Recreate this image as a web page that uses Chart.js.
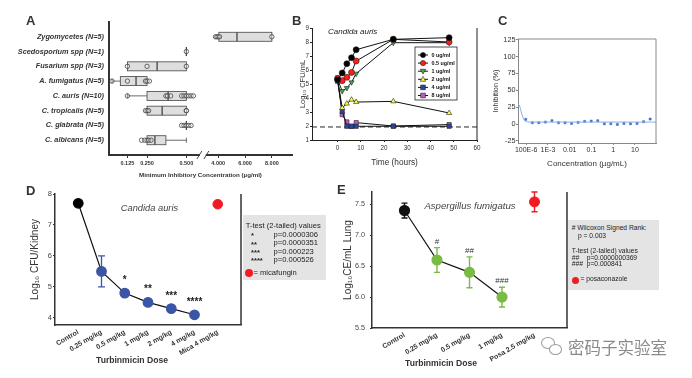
<!DOCTYPE html>
<html>
<head>
<meta charset="utf-8">
<script src="https://cdn.jsdelivr.net/npm/chart.js@4.4.1/dist/chart.umd.min.js"></script>
<style>
  body { margin: 0; width: 692px; height: 378px; position: relative; overflow: hidden; background: #fff;
         font-family: "Liberation Sans", Arial, sans-serif; color: #333; }
  canvas { position: absolute; }
  .tag { position: absolute; line-height: 1; font: bold 13px "Liberation Sans Narrow", "Liberation Sans", sans-serif; color: #333; }
  .txt { position: absolute; line-height: 1; white-space: nowrap; }
  .key { position: absolute; background: #e4e4e4; }
</style>
</head>
<body>
<canvas id="chartA" width="300" height="185" style="left:0px;top:0px"></canvas>
<canvas id="chartB" width="200" height="175" style="left:290px;top:0px"></canvas>
<canvas id="chartC" width="196" height="175" style="left:488px;top:0px"></canvas>
<canvas id="chartD" width="340" height="198" style="left:0px;top:180px"></canvas>
<canvas id="chartE" width="352" height="198" style="left:340px;top:180px"></canvas>

<div class="tag" style="left:26px;top:13px">A</div>
<div class="tag" style="left:292px;top:13px">B</div>
<div class="tag" style="left:498px;top:13px">C</div>
<div class="tag" style="left:26px;top:183px">D</div>
<div class="tag" style="left:337px;top:182px">E</div>
<div class="key" style="left:243px;top:215px;width:83px;height:65px"></div>
<div class="key" style="left:568px;top:220px;width:91px;height:70px"></div>

<script>
// ---------- A: MIC box plots ----------
const rowsA = ['Zygomycetes (N=5)', 'Scedosporium spp (N=1)', 'Fusarium spp (N=3)', 'A. fumigatus (N=5)',
               'C. auris (N=10)', 'C. tropicalis (N=5)', 'C. glabrata (N=5)', 'C. albicans (N=5)'];
const loA  = [4.05, 0.5, 0.125, 0.027, 0.125, 0.25, 0.5, 0.25];
const q1A  = [4.05, 0.5, 0.125, 0.08, 0.25, 0.25, 0.5, 0.25];
const medA = [5.4, 0.5, 0.314, 0.18, 0.384, 0.346, 0.5, 0.30];
const q3A  = [8, 0.5, 0.5, 0.25, 0.5, 0.5, 0.5, 0.37];
const hiA  = [8, 0.5, 0.5, 0.25, 0.5, 0.5, 0.5, 0.5];
const ptsA = [
  [3.8, 3.9, 4.0, 4.1, 8],
  [0.5],
  [0.125, 0.25, 0.5],
  [0.027, 0.125, 0.24, 0.25, 0.265],
  [0.125, 0.37, 0.38, 0.4, 0.47, 0.485, 0.5, 0.515, 0.53, 0.545],
  [0.24, 0.25, 0.26, 0.5, 0.5],
  [0.47, 0.485, 0.5, 0.515, 0.53],
  [0.215, 0.235, 0.25, 0.26, 0.275]
];
const ticksA = [0.125, 0.25, 0.5, 4, 6, 8];

// ---------- B: time kill ----------
const timesB = [0, 2, 4, 6, 8, 24, 48];
const dosesB = ['0 ug/ml', '0.5 ug/ml', '1 ug/ml', '2 ug/ml', '4 ug/ml', '8 ug/ml'];
const cfu0  = [5.3, 5.79, 6.45, 6.88, 7.45, 8.19, 8.31];
const cfu05 = [5.4, 5.24, 5.48, 5.83, 6.64, 8.19, 8.0];
const cfu1  = [5.3, 4.5, 4.71, 5.12, 5.74, 7.95, 7.95];
const cfu2  = [5.3, 3.29, 3.6, 3.88, 3.71, 3.76, 2.93];
const cfu4  = [5.2, 3.05, 1.98, 1.98, 1.98, 1.98, 1.98];
const cfu8  = [5.43, 2.81, 2.29, 1.98, 2.24, 2.0, 2.1];
const limitB = 1.93;
const ticksBx = [0, 10, 20, 30, 40, 50, 60];

// ---------- C: inhibition curve ----------
const concC = [0.0000954, 0.000191, 0.000381, 0.000763, 0.00153, 0.00305, 0.0061, 0.0122, 0.0244, 0.0488,
               0.0977, 0.195, 0.391, 0.781, 1.56, 3.13, 6.25, 12.5, 25, 50];
const inhibC = [7, 2, 2, 3, 5, 2, 2, 1, 2.5, 4, 4.5, 5, 0.5, 0.5, -0.5, 1, 0.5, 1, 3.5, 7.5];
const fitConcC = [0.000042, 0.00005, 0.000059, 0.000071, 0.000085, 0.000115, 0.0002, 0.001, 0.01, 0.1, 1, 10, 93];
const fitValC  = [30, 27, 18, 10, 5, 3.3, 3, 3, 3, 3, 3, 3, 3];
const ticksC = [0.0001, 0.001, 0.01, 0.1, 1, 10];
const tickLabelsC = ['100E-6', '1E-3', '0.01', '0.1', '1', '10'];
const ticksCy = [-25, 0, 25, 50, 75, 100, 125];

// ---------- D: kidney burden, C. auris ----------
const catD = ['Control', '0.25 mg/kg', '0.5 mg/kg', '1 mg/kg', '2 mg/kg', '4 mg/kg', 'Mica 4 mg/kg'];
const cfuD = [7.7, 5.5, 4.8, 4.5, 4.3, 4.1];
const sdD = [0, 0.5, 0, 0, 0, 0];
const starsD = ['', '', '*', '**', '***', '****'];
const micaD = 7.67;
const ticksDy = [4, 5, 6, 7, 8];

// ---------- E: lung burden, A. fumigatus ----------
const catE = ['Control', '0.25 mg/kg', '0.5 mg/kg', '1 mg/kg', 'Posa 2.5 mg/kg'];
const ceE = [7.40, 6.60, 6.40, 6.00];
const sdE = [0.12, 0.20, 0.25, 0.16];
const hashE = ['', '#', '##', '###'];
const posaE = 7.54;
const posaSdE = 0.16;
const ticksEy = [5.5, 6.0, 6.5, 7.0, 7.5];

Chart.defaults.font.family = '"Liberation Sans", Arial, sans-serif';
Chart.defaults.color = '#333';
Chart.defaults.animation = false;
Chart.defaults.responsive = false;
Chart.defaults.plugins.legend.display = false;
Chart.defaults.plugins.tooltip.enabled = false;

// fix axis sizes so the plot areas land where they are in the figure
const fixY = w => s => { s.width = w; s.paddingTop = 0; s.paddingBottom = 0; };
const fixX = h => s => { s.height = h; s.paddingLeft = 0; s.paddingRight = 0; };

function frame(id, sides, color, width) {
  return {
    id: id,
    afterDraw(chart) {
      const { ctx, chartArea: a } = chart;
      ctx.save();
      ctx.strokeStyle = color;
      ctx.lineWidth = width;
      ctx.beginPath();
      if (sides.includes('r')) { ctx.moveTo(a.right, a.top); ctx.lineTo(a.right, a.bottom); }
      if (sides.includes('t')) { ctx.moveTo(a.left, a.top); ctx.lineTo(a.right, a.top); }
      ctx.stroke();
      ctx.restore();
    }
  };
}

// broken x axis for A: the first segment is linear, the second is squeezed
function brk(v) { return v < 1 ? v : 0.7025 + (v - 4) * 0.0854; }

const boxA = {
  id: 'boxA',
  beforeDatasetsDraw(chart) {
    const { ctx, scales: { x, y } } = chart;
    const px = v => x.getPixelForValue(brk(v));
    const h = 4.5;
    ctx.save();
    ctx.strokeStyle = '#444';
    rowsA.forEach((name, i) => {
      const yc = y.getPixelForValue(i + 1);
      ctx.lineWidth = 0.8;
      ctx.beginPath();
      if (loA[i] < q1A[i]) {
        ctx.moveTo(px(loA[i]), yc); ctx.lineTo(px(q1A[i]), yc);
        ctx.moveTo(px(loA[i]), yc - 2.5); ctx.lineTo(px(loA[i]), yc + 2.5);
      }
      if (hiA[i] > q3A[i]) {
        ctx.moveTo(px(q3A[i]), yc); ctx.lineTo(px(hiA[i]), yc);
        ctx.moveTo(px(hiA[i]), yc - 2.5); ctx.lineTo(px(hiA[i]), yc + 2.5);
      }
      ctx.stroke();
      if (q3A[i] > q1A[i]) {
        const x1 = px(q1A[i]), x2 = px(q3A[i]);
        ctx.fillStyle = '#dedede';
        ctx.fillRect(x1, yc - h, x2 - x1, 2 * h);
        ctx.strokeRect(x1, yc - h, x2 - x1, 2 * h);
      }
      ctx.lineWidth = 1.3;
      ctx.beginPath();
      ctx.moveTo(px(medA[i]), yc - h); ctx.lineTo(px(medA[i]), yc + h);
      ctx.stroke();
    });
    ctx.restore();
  },
  afterDraw(chart) {
    const { ctx, chartArea: a, scales: { x } } = chart;
    const xb = x.getPixelForValue(0.605);
    ctx.save();
    ctx.fillStyle = '#fff';
    ctx.fillRect(xb - 3, a.bottom - 2, 6, 4);
    ctx.strokeStyle = '#333';
    ctx.lineWidth = 0.9;
    ctx.beginPath();
    ctx.moveTo(xb - 6, a.bottom + 4); ctx.lineTo(xb - 1, a.bottom - 4);
    ctx.moveTo(xb + 1, a.bottom + 4); ctx.lineTo(xb + 6, a.bottom - 4);
    ctx.stroke();
    ctx.restore();
  }
};

new Chart(document.getElementById('chartA'), {
  type: 'scatter',
  data: {
    datasets: [{
      data: ptsA.flatMap((list, i) => list.map(v => ({ x: brk(v), y: i + 1 }))),
      pointRadius: 2.2,
      pointBackgroundColor: 'rgba(255,255,255,0.25)',
      pointBorderColor: '#444',
      pointBorderWidth: 0.8,
      clip: false
    }]
  },
  options: {
    layout: { padding: { left: 0, right: 8, top: 22, bottom: 0 } },
    scales: {
      x: {
        type: 'linear', min: 0.008, max: 1.172,
        afterBuildTicks: s => { s.ticks = ticksA.map(v => ({ value: brk(v) })); },
        afterFit: fixX(30),
        ticks: { autoSkip: false, maxRotation: 0, padding: 2.5, color: '#333',
                 font: { size: 5.5, weight: 'bold' }, callback: (v, i) => ticksA[i].toFixed(3) },
        grid: { display: true, drawOnChartArea: false, drawTicks: true, tickLength: 3, color: '#333' },
        border: { color: '#333', width: 2 },
        title: { display: true, text: 'Minimum Inhibitory Concentration (µg/ml)', color: '#333',
                 font: { size: 6.2, weight: 'bold' }, padding: { top: 0, bottom: 5.5 } }
      },
      y: {
        type: 'linear', reverse: true, min: 0, max: 9,
        afterBuildTicks: s => { s.ticks = rowsA.map((r, i) => ({ value: i + 1 })); },
        afterFit: fixY(109),
        ticks: { autoSkip: false, padding: 5, color: '#333',
                 font: { size: 7.3, weight: 'bold', style: 'italic' }, callback: (v, i) => rowsA[i] },
        grid: { display: false, drawTicks: false, tickLength: 0 },
        border: { color: '#333', width: 2 }
      }
    }
  },
  plugins: [boxA]
});

// ---------- B ----------
const seriesB = [cfu0, cfu05, cfu1, cfu2, cfu4, cfu8];
const looksB = [
  { fill: '#000000', shape: 'circle', rot: 0 },
  { fill: '#ff1c1c', shape: 'circle', rot: 0 },
  { fill: '#45a845', shape: 'triangle', rot: 180 },
  { fill: '#ffff3a', shape: 'triangle', rot: 0 },
  { fill: '#2b45a6', shape: 'rect', rot: 0 },
  { fill: '#c25ac2', shape: 'rect', rot: 0 }
];

function mark(ctx, shape, rot, x, y, r) {
  ctx.beginPath();
  if (shape === 'circle') {
    ctx.arc(x, y, r, 0, Math.PI * 2);
  } else if (shape === 'rect') {
    ctx.rect(x - r * 0.9, y - r * 0.9, r * 1.8, r * 1.8);
  } else {
    const d = rot ? -1 : 1;
    ctx.moveTo(x, y - d * r * 1.1);
    ctx.lineTo(x - r * 1.05, y + d * r * 0.75);
    ctx.lineTo(x + r * 1.05, y + d * r * 0.75);
    ctx.closePath();
  }
  ctx.fill();
  ctx.stroke();
}

const legendB = {
  id: 'legendB',
  afterDraw(chart) {
    const { ctx } = chart;
    const left = 125, top = 47;
    ctx.save();
    ctx.fillStyle = '#fff';
    ctx.strokeStyle = '#222';
    ctx.lineWidth = 0.8;
    ctx.fillRect(left, top, 42, 53);
    ctx.strokeRect(left, top, 42, 53);
    dosesB.forEach((name, k) => {
      const yy = top + 8 + k * 8.1;
      ctx.strokeStyle = '#111';
      ctx.lineWidth = 1;
      ctx.beginPath(); ctx.moveTo(left + 3, yy); ctx.lineTo(left + 13, yy); ctx.stroke();
      ctx.fillStyle = looksB[k].fill;
      ctx.strokeStyle = '#222';
      ctx.lineWidth = 0.6;
      mark(ctx, looksB[k].shape, looksB[k].rot, left + 8, yy, 2.6);
      ctx.fillStyle = '#111';
      ctx.font = 'bold 5.4px "Liberation Sans", Arial, sans-serif';
      ctx.textBaseline = 'middle';
      ctx.fillText(name, left + 16.5, yy + 0.3);
    });
    ctx.restore();
  }
};

new Chart(document.getElementById('chartB'), {
  type: 'line',
  data: {
    datasets: seriesB.map((vals, k) => ({
      label: dosesB[k],
      data: timesB.map((t, i) => ({ x: t, y: vals[i] })),
      borderColor: '#111',
      borderWidth: 1,
      pointStyle: looksB[k].shape,
      pointRotation: looksB[k].rot,
      pointRadius: 3,
      pointBackgroundColor: looksB[k].fill,
      pointBorderColor: '#222',
      pointBorderWidth: 0.6,
      clip: false
    })).concat([{
      label: 'limit',
      data: [{ x: -11, y: limitB }, { x: 60, y: limitB }],
      borderColor: '#222', borderWidth: 1, borderDash: [5, 3], pointRadius: 0
    }])
  },
  options: {
    layout: { padding: { left: 8, right: 13, top: 28, bottom: 0 } },
    scales: {
      x: {
        type: 'linear', min: -11, max: 60,
        afterBuildTicks: s => { s.ticks = ticksBx.map(v => ({ value: v })); },
        afterFit: fixX(35),
        ticks: { autoSkip: false, maxRotation: 0, padding: 2, font: { size: 6.3 }, color: '#333' },
        grid: { display: true, drawOnChartArea: false, drawTicks: true, tickLength: 2, color: '#222' },
        border: { color: '#222', width: 1 },
        title: { display: true, text: 'Time (hours)', font: { size: 8.3 }, color: '#333', padding: { top: 0, bottom: 7.8 } }
      },
      y: {
        type: 'linear', min: 1, max: 9,
        ticks: { stepSize: 1, padding: 1, font: { size: 6.3 }, color: '#333' },
        afterFit: fixY(14),
        grid: { display: true, drawOnChartArea: false, drawTicks: true, tickLength: 2, color: '#222' },
        border: { color: '#222', width: 1 },
        title: { display: true, text: 'Log₁₀ CFU/mL', font: { size: 7.5 }, color: '#333', padding: 0 }
      }
    }
  },
  plugins: [frame('frameB', 'r', '#222', 1), legendB]
});

// ---------- C ----------
new Chart(document.getElementById('chartC'), {
  type: 'scatter',
  data: {
    datasets: [{
      type: 'line',
      data: fitConcC.map((c, i) => ({ x: c, y: fitValC[i] })),
      borderColor: '#86aee6', borderWidth: 1, pointRadius: 0, cubicInterpolationMode: 'monotone'
    }, {
      data: concC.map((c, i) => ({ x: c, y: inhibC[i] })),
      pointStyle: 'rect', pointRadius: 1.5,
      pointBackgroundColor: '#3f6fc6', pointBorderColor: '#3f6fc6', pointBorderWidth: 0.5
    }]
  },
  options: {
    layout: { padding: { left: 4, right: 28, top: 39, bottom: 0 } },
    scales: {
      x: {
        type: 'logarithmic', min: 0.000042, max: 93,
        afterBuildTicks: s => { s.ticks = ticksC.map(v => ({ value: v })); },
        afterFit: fixX(32),
        ticks: { autoSkip: false, maxRotation: 0, padding: 0.5, font: { size: 7 }, color: '#333',
                 callback: (v, i) => tickLabelsC[i] },
        grid: { display: true, drawOnChartArea: false, drawTicks: true, tickLength: 2, color: '#888' },
        border: { color: '#888', width: 1 },
        title: { display: true, text: 'Concentration (µg/mL)', font: { size: 8 }, color: '#333', padding: { top: 0, bottom: 6.9 } }
      },
      y: {
        type: 'linear', min: -28, max: 126,
        afterBuildTicks: s => { s.ticks = ticksCy.map(v => ({ value: v })); },
        afterFit: fixY(26),
        ticks: { autoSkip: false, padding: 0.5, font: { size: 7.3 }, color: '#333' },
        grid: { display: true, drawOnChartArea: false, drawTicks: true, tickLength: 2, color: '#888' },
        border: { color: '#888', width: 1 },
        title: { display: true, text: 'Inhibition (%)', font: { size: 7.4 }, color: '#333', padding: 0 }
      }
    }
  },
  plugins: [frame('frameC', 'rt', '#888', 1)]
});

// ---------- D ----------
const blueD = '#3a55a6';
const marksD = {
  id: 'marksD',
  beforeDatasetsDraw(chart) {
    const { ctx, scales: { x, y } } = chart;
    ctx.save();
    ctx.strokeStyle = blueD;
    ctx.lineWidth = 1.3;
    cfuD.forEach((v, i) => {
      if (!sdD[i]) return;
      const xc = x.getPixelForValue(i + 1);
      const yl = y.getPixelForValue(v - sdD[i]), yh = y.getPixelForValue(v + sdD[i]);
      ctx.beginPath();
      ctx.moveTo(xc, yl); ctx.lineTo(xc, yh);
      ctx.moveTo(xc - 3.5, yl); ctx.lineTo(xc + 3.5, yl);
      ctx.moveTo(xc - 3.5, yh); ctx.lineTo(xc + 3.5, yh);
      ctx.stroke();
    });
    ctx.restore();
  },
  afterDatasetsDraw(chart) {
    const { ctx, scales: { x, y } } = chart;
    ctx.save();
    ctx.fillStyle = '#222';
    ctx.font = 'bold 10px "Liberation Sans", Arial, sans-serif';
    ctx.textAlign = 'center';
    ctx.textBaseline = 'alphabetic';
    starsD.forEach((s, i) => {
      if (s) ctx.fillText(s, x.getPixelForValue(i + 1), y.getPixelForValue(cfuD[i]) - 10);
    });
    ctx.restore();
  }
};

new Chart(document.getElementById('chartD'), {
  type: 'line',
  data: {
    datasets: [{
      data: cfuD.map((v, i) => ({ x: i + 1, y: v })),
      borderColor: '#111', borderWidth: 1.2,
      pointRadius: 4.8,
      pointBackgroundColor: cfuD.map((v, i) => i === 0 ? '#000' : blueD),
      pointBorderColor: cfuD.map((v, i) => i === 0 ? '#000' : blueD),
      clip: false
    }, {
      data: [{ x: 7, y: micaD }],
      showLine: false, pointRadius: 4.8,
      pointBackgroundColor: '#f01c24', pointBorderColor: '#f01c24', clip: false
    }]
  },
  options: {
    layout: { padding: { left: 29, right: 99, top: 14, bottom: 0 } },
    scales: {
      x: {
        type: 'linear', min: 0, max: 8,
        afterBuildTicks: s => { s.ticks = catD.map((c, i) => ({ value: i + 1 })); },
        afterFit: fixX(53),
        ticks: { autoSkip: false, minRotation: 30, maxRotation: 30, padding: 3,
                 font: { size: 7, weight: 'bold' }, color: '#333', callback: (v, i) => catD[i] },
        grid: { display: false, drawTicks: false, tickLength: 0 },
        border: { color: '#333', width: 1.5 }
      },
      y: {
        type: 'linear', min: 3.77, max: 8,
        afterBuildTicks: s => { s.ticks = ticksDy.map(v => ({ value: v })); },
        afterFit: fixY(26),
        ticks: { autoSkip: false, padding: 1, font: { size: 7.5 }, color: '#444' },
        grid: { display: true, drawOnChartArea: false, drawTicks: true, tickLength: 2, color: '#333' },
        border: { color: '#333', width: 1.5 },
        title: { display: true, text: 'Log₁₀ CFU/Kidney', font: { size: 10 }, color: '#333', padding: 0 }
      }
    }
  },
  plugins: [frame('frameD', 'r', '#333', 1.5), marksD]
});

// ---------- E ----------
const greenE = '#79bb45';
const colorsE = ['#111', greenE, greenE, greenE];
const marksE = {
  id: 'marksE',
  beforeDatasetsDraw(chart) {
    const { ctx, scales: { x, y } } = chart;
    const bars = ceE.map((v, i) => [i + 1, v, sdE[i], colorsE[i]]).concat([[5, posaE, posaSdE, '#f01c24']]);
    ctx.save();
    ctx.lineWidth = 1.4;
    bars.forEach(([pos, v, sd, col]) => {
      const xc = x.getPixelForValue(pos);
      const yl = y.getPixelForValue(v - sd), yh = y.getPixelForValue(v + sd);
      ctx.strokeStyle = col;
      ctx.beginPath();
      ctx.moveTo(xc, yl); ctx.lineTo(xc, yh);
      ctx.moveTo(xc - 3, yl); ctx.lineTo(xc + 3, yl);
      ctx.moveTo(xc - 3, yh); ctx.lineTo(xc + 3, yh);
      ctx.stroke();
    });
    ctx.restore();
  },
  afterDatasetsDraw(chart) {
    const { ctx, scales: { x, y } } = chart;
    ctx.save();
    ctx.fillStyle = '#333';
    ctx.font = '8px "Liberation Sans", Arial, sans-serif';
    ctx.textAlign = 'center';
    ctx.textBaseline = 'alphabetic';
    hashE.forEach((s, i) => {
      if (s) ctx.fillText(s, x.getPixelForValue(i + 1), y.getPixelForValue(ceE[i] + sdE[i]) - 4);
    });
    ctx.restore();
  }
};

new Chart(document.getElementById('chartE'), {
  type: 'line',
  data: {
    datasets: [{
      data: ceE.map((v, i) => ({ x: i + 1, y: v })),
      borderColor: '#111', borderWidth: 1.2,
      pointRadius: 5,
      pointBackgroundColor: colorsE,
      pointBorderColor: colorsE,
      clip: false
    }, {
      data: [{ x: 5, y: posaE }],
      showLine: false, pointRadius: 5,
      pointBackgroundColor: '#f01c24', pointBorderColor: '#f01c24', clip: false
    }]
  },
  options: {
    layout: { padding: { left: 2, right: 125, top: 12, bottom: 0 } },
    scales: {
      x: {
        type: 'linear', min: 0, max: 6,
        afterBuildTicks: s => { s.ticks = catE.map((c, i) => ({ value: i + 1 })); },
        afterFit: fixX(50),
        ticks: { autoSkip: false, minRotation: 30, maxRotation: 30, padding: 3,
                 font: { size: 7, weight: 'bold' }, color: '#333', callback: (v, i) => catE[i] },
        grid: { display: false, drawTicks: false, tickLength: 0 },
        border: { color: '#333', width: 1.5 }
      },
      y: {
        type: 'linear', min: 5.5, max: 7.7,
        afterBuildTicks: s => { s.ticks = ticksEy.map(v => ({ value: v })); },
        afterFit: fixY(30),
        ticks: { autoSkip: false, padding: 5, font: { size: 7.2 }, color: '#444', callback: v => v.toFixed(1) },
        grid: { display: true, drawOnChartArea: false, drawTicks: true, tickLength: 2, color: '#333' },
        border: { color: '#333', width: 1.5 },
        title: { display: true, text: 'Log₁₀CE/mL Lung', font: { size: 10 }, color: '#333', padding: 0 }
      }
    }
  },
  plugins: [frame('frameE', 'r', '#333', 1.5), marksE]
});

// ---------- text on top of the charts ----------
function put(text, x, cy, size, style, center) {
  const d = document.createElement('div');
  d.className = 'txt';
  d.textContent = text;
  d.style.left = x + 'px';
  d.style.top = (cy - 0.53 * size) + 'px';
  d.style.fontSize = size + 'px';
  if (center) d.style.transform = 'translateX(-50%)';
  if (style) Object.assign(d.style, style);
  document.body.appendChild(d);
  return d;
}
function dot(x, y, r) {
  const d = document.createElement('div');
  Object.assign(d.style, { position: 'absolute', left: (x - r) + 'px', top: (y - r) + 'px',
    width: 2 * r + 'px', height: 2 * r + 'px', borderRadius: '50%', background: '#f01c24' });
  document.body.appendChild(d);
}

put('Candida auris', 328, 32.3, 8, { fontStyle: 'italic', color: '#222' });
put('Candida auris', 149.5, 209, 9.3, { fontStyle: 'italic', color: '#444' }, true);
put('Aspergillus fumigatus', 470, 205.7, 9.6, { fontStyle: 'italic', color: '#444' }, true);
put('Turbinmicin Dose', 132, 361, 8.6, { fontWeight: 'bold', color: '#333' }, true);
put('Turbinmicin Dose', 441, 363.3, 8.6, { fontWeight: 'bold', color: '#333' }, true);

// D key
put('T-test (2-tailed) values', 245.7, 225.7, 7.6, { color: '#222' });
const starKeyD = ['*', '**', '***', '****'];
const pKeyD = ['p=0.0000306', 'p=0.0000351', 'p=0.000223', 'p=0.000526'];
starKeyD.forEach((s, i) => {
  put(s, 251, 236.5 + i * 8.3, 7.6, { color: '#222', fontWeight: 'bold' });
  put(pKeyD[i], 273.5, 235 + i * 8.3, 7.6, { color: '#222' });
});
dot(248.5, 273, 4);
put('= micafungin', 253.5, 273.3, 7.6, { color: '#222' });

// E key
put('# Wilcoxon Signed Rank:', 571.7, 229, 6.7, { color: '#222' });
put('p = 0.003', 578, 236.7, 6.7, { color: '#222' });
put('T-test (2-tailed) values', 571.7, 251.7, 6.7, { color: '#222' });
put('##', 571.7, 258.3, 6.7, { color: '#222', fontStyle: 'italic' });
put('p=0.0000000369', 586.7, 258.3, 6.7, { color: '#222' });
put('###', 571.7, 265, 6.7, { color: '#222', fontStyle: 'italic' });
put('p=0.000841', 586.7, 265, 6.7, { color: '#222' });
dot(575.7, 280, 3.5);
put('= posaconazole', 580.5, 280, 6.7, { color: '#222' });

// watermark
put('密码子实验室', 568, 348, 16.5, { color: '#8a8a8a', fontFamily: '"Noto Sans CJK SC", sans-serif' });
const icon1 = document.createElement('div');
Object.assign(icon1.style, { position: 'absolute', left: '541px', top: '337px', width: '12px', height: '10px',
  border: '1.5px solid #999', borderRadius: '50%' });
document.body.appendChild(icon1);
const icon2 = document.createElement('div');
Object.assign(icon2.style, { position: 'absolute', left: '549px', top: '344px', width: '11px', height: '9px',
  border: '1.5px solid #999', borderRadius: '50%', background: '#fff' });
document.body.appendChild(icon2);
</script>
</body>
</html>
